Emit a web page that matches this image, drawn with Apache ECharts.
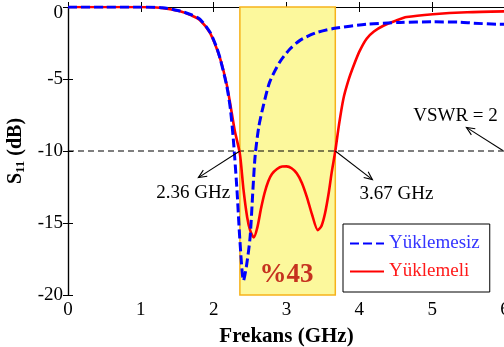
<!DOCTYPE html>
<html>
<head>
<meta charset="utf-8">
<script src="https://cdn.jsdelivr.net/npm/echarts@6/dist/echarts.min.js"></script>
<style>
  html, body { margin: 0; padding: 0; background: #fff; }
  #chart { width: 504px; height: 347px; }
</style>
</head>
<body>
<div id="chart"></div>
<script>
// frequency (GHz) / S11 (dB)
const unloaded = [
  [0, 0], [0.5, 0], [1.0, 0], [1.3, -0.05], [1.54, -0.28], [1.7, -0.55], [1.81, -0.84],
  [1.95, -1.75], [2.04, -2.8], [2.09, -3.6], [2.18, -5.5], [2.23, -7.1], [2.27, -9.2],
  [2.32, -12.7], [2.36, -16.2], [2.41, -19.0], [2.45, -18.0], [2.50, -16.0], [2.54, -12.6],
  [2.57, -10.3], [2.62, -8.3], [2.68, -6.9], [2.77, -5.2], [2.91, -3.8], [3.05, -2.9],
  [3.19, -2.3], [3.4, -1.8], [3.64, -1.5], [4.1, -1.2], [4.56, -1.07], [5.0, -1.03],
  [5.38, -1.05], [5.57, -1.12], [5.93, -1.2], [6, -1.2]
]
const loaded = [
  [0, 0], [0.5, 0], [1.0, 0], [1.26, -0.05], [1.54, -0.3], [1.7, -0.6], [1.81, -0.9],
  [1.95, -1.8], [2.09, -3.6], [2.18, -5.4], [2.23, -6.8], [2.29, -8.6], [2.36, -10.2],
  [2.41, -12.7], [2.46, -14.6], [2.50, -15.5], [2.55, -16.0], [2.60, -15.3], [2.65, -14.0],
  [2.70, -12.9], [2.75, -12.1], [2.80, -11.6], [2.87, -11.25], [2.94, -11.08], [3.0, -11.07],
  [3.07, -11.2], [3.14, -11.55], [3.21, -12.2], [3.28, -13.2], [3.35, -14.4], [3.43, -15.5],
  [3.48, -15.2], [3.53, -14.3], [3.58, -12.9], [3.62, -11.5], [3.67, -10.0], [3.72, -8.2],
  [3.78, -6.4], [3.85, -5.1], [3.92, -4.1], [4.0, -3.1], [4.1, -2.2], [4.2, -1.7],
  [4.33, -1.3], [4.5, -0.95], [4.65, -0.7], [5.01, -0.5], [5.48, -0.36], [6, -0.3]
]
const seriesNames = ['Yüklemesiz', 'Yüklemeli']
const band = [2.36, 3.67]
const vswrLevel = -10
const xTicks = [0, 1, 2, 3, 4, 5, 6]
const yTicks = [-20, -15, -10, -5, 0]
// arrows: [fromX, fromY, toX, toY]
const arrows = [
  [2.36, -10, 1.79, -11.85],
  [3.67, -10, 4.18, -11.99],
  [5.97, -9.97, 5.47, -8.36]
]
// notes: [x, y, text]
const notes = [
  [1.72, -12.9, '2.36 GHz'],
  [4.51, -12.96, '3.67 GHz'],
  [5.32, -7.6, 'VSWR = 2']
]
const bandLabel = [3.0, -18.6, '%43']

const serif = 'Liberation Serif'
const chart = echarts.init(document.getElementById('chart'))

function arrowItem(params, api) {
  const a = api.coord([api.value(0), api.value(1)])
  const b = api.coord([api.value(2), api.value(3)])
  const ang = Math.atan2(b[1] - a[1], b[0] - a[0])
  const len = 9, spread = 0.42
  const h1 = [b[0] - len * Math.cos(ang - spread), b[1] - len * Math.sin(ang - spread)]
  const h2 = [b[0] - len * Math.cos(ang + spread), b[1] - len * Math.sin(ang + spread)]
  const st = { stroke: '#000', lineWidth: 1.1, fill: null }
  return {
    type: 'group',
    children: [
      { type: 'polyline', shape: { points: [a, b] }, style: st },
      { type: 'polyline', shape: { points: [h1, b, h2] }, style: st }
    ]
  }
}

function noteItem(params, api) {
  const p = api.coord([api.value(0), api.value(1)])
  return {
    type: 'text',
    x: p[0], y: p[1],
    style: {
      text: notes[params.dataIndex][2],
      font: '19px "' + serif + '"',
      fill: '#000', align: 'center', verticalAlign: 'middle'
    }
  }
}

const option = {
  animation: false,
  grid: { left: 68, right: -1, top: 7, bottom: 52, outerBoundsMode: 'none', containLabel: false },
  legend: {
    left: 343, top: 224,
    orient: 'vertical',
    data: [
      { name: seriesNames[0], textStyle: { color: '#3535ff' } },
      { name: seriesNames[1], textStyle: { color: '#ff1a1a' } }
    ],
    itemWidth: 34, itemHeight: 14, itemGap: 9,
    padding: [10, 10, 11, 6],
    itemStyle: { opacity: 0 },
    borderColor: '#000', borderWidth: 1, backgroundColor: '#fff',
    textStyle: { fontFamily: serif, fontSize: 19 }
  },
  xAxis: [{
    type: 'value', min: xTicks[0], max: xTicks[xTicks.length - 1], interval: 1,
    name: 'Frekans (GHz)', nameLocation: 'middle', nameGap: 31,
    nameTextStyle: { fontFamily: serif, fontSize: 21, fontWeight: 'bold', color: '#000' },
    axisLine: { lineStyle: { color: '#000', width: 1.2 } },
    axisTick: { inside: true, length: 5, lineStyle: { color: '#000' } },
    axisLabel: { fontFamily: serif, fontSize: 19, color: '#000', margin: 6 },
    splitLine: { show: false }
  }, {
    type: 'value', position: 'top', min: 0, max: 6, interval: 1,
    axisLine: { lineStyle: { color: '#000', width: 1.2 } },
    axisTick: { inside: true, length: 5, lineStyle: { color: '#000' } },
    axisLabel: { show: false }, splitLine: { show: false }
  }],
  yAxis: [{
    type: 'value', min: yTicks[0], max: yTicks[yTicks.length - 1], interval: 5,
    name: '{s|S}{sub|11}{s| (dB)}', nameLocation: 'middle', nameGap: 40,
    nameTextStyle: {
      rich: {
        s: { fontFamily: serif, fontSize: 20, fontWeight: 'bold', color: '#000' },
        sub: { fontFamily: serif, fontSize: 13, fontWeight: 'bold', color: '#000', padding: [9, 0, 0, 0] }
      }
    },
    axisLine: { lineStyle: { color: '#000', width: 1.2 } },
    axisTick: { inside: true, length: 5, lineStyle: { color: '#000' } },
    axisLabel: {
      fontFamily: serif, fontSize: 19, color: '#000', margin: 5,
      formatter: v => (v === yTicks[yTicks.length - 1] ? '{t|' + v + '}' : String(v)),
      rich: { t: { fontFamily: serif, fontSize: 19, color: '#000', padding: [12, 0, 0, 0] } }
    },
    splitLine: { show: false }
  }, {
    type: 'value', position: 'right', min: -20, max: 0, interval: 5,
    axisLine: { show: true, lineStyle: { color: '#000', width: 1.2 } },
    axisTick: { show: true, inside: true, length: 5, lineStyle: { color: '#000' } },
    axisLabel: { show: false }, splitLine: { show: false }
  }],
  series: [
    {
      name: 'vswr', type: 'line', z: 1,
      data: [[0, vswrLevel], [6, vswrLevel]],
      symbol: 'none', silent: true,
      lineStyle: { color: '#000', width: 1.1, type: [6, 4] },
      markArea: {
        silent: true,
        itemStyle: { color: '#fcf89c', borderColor: '#f6b21b', borderWidth: 1.5 },
        data: [[{ xAxis: band[0], yAxis: -20 }, { xAxis: band[1], yAxis: 0 }]]
      }
    },
    {
      name: seriesNames[0], type: 'line', z: 4,
      data: unloaded, symbol: 'none', smooth: 0.25,
      lineStyle: { color: '#0000ff', width: 3, type: [9, 4] },
      itemStyle: { color: '#0000ff' }
    },
    {
      name: seriesNames[1], type: 'line', z: 3,
      data: loaded, symbol: 'none', smooth: 0.25,
      lineStyle: { color: '#ff0000', width: 2.6 },
      itemStyle: { color: '#ff0000' }
    },
    {
      type: 'custom', z: 5, silent: true,
      renderItem: arrowItem,
      encode: { x: [0, 2], y: [1, 3] },
      data: arrows
    },
    {
      type: 'custom', z: 5, silent: true,
      renderItem: noteItem,
      encode: { x: 0, y: 1 },
      data: notes.map(n => [n[0], n[1]])
    },
    {
      type: 'scatter', z: 5, silent: true, symbolSize: 0,
      data: [[bandLabel[0], bandLabel[1]]],
      label: {
        show: true, position: 'inside', formatter: bandLabel[2],
        fontFamily: serif, fontSize: 27, fontWeight: 'bold', color: '#b80000'
      }
    }
  ]
}
chart.setOption(option)
</script>
</body>
</html>
